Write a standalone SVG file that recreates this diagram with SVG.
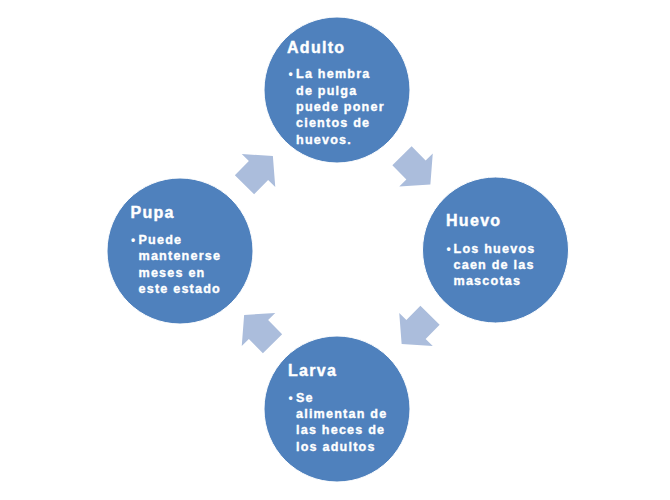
<svg xmlns="http://www.w3.org/2000/svg" width="670" height="500" viewBox="0 0 670 500">
<defs>
<style>
.node{fill:#4F81BD;stroke:#FFFFFF;stroke-width:1}
.arrow{fill:#ABBDDC}
.title{font-family:"Liberation Sans",Arial,sans-serif;font-weight:bold;font-size:16px;fill:#FFFFFF;stroke:#FFFFFF;stroke-width:0.4;letter-spacing:1.3px}
.body{font-family:"Liberation Sans",Arial,sans-serif;font-weight:bold;font-size:12.6px;fill:#FFFFFF;stroke:#FFFFFF;stroke-width:0.35;letter-spacing:1.2px}
.bullet{font-family:"Liberation Sans",Arial,sans-serif;font-weight:bold;font-size:12px;fill:#FFFFFF}
</style>
<path id="arr" d="M-20,-13.5 H0 V-23.5 L20.5,0 L0,23.5 V13.5 H-20 Z"/>
</defs>
<rect width="670" height="500" fill="#FFFFFF"/>
<g id="connectors">
<use href="#arr" class="arrow" transform="translate(416,170) rotate(45.5)"/>
<use href="#arr" class="arrow" transform="translate(416,329.5) rotate(134.5)"/>
<use href="#arr" class="arrow" transform="translate(258.5,329.5) rotate(-134.5)"/>
<use href="#arr" class="arrow" transform="translate(258.5,170.5) rotate(-45.5)"/>
</g>
<g id="adulto">
<circle class="node" cx="337" cy="90" r="73"/>
<text class="title" x="287" y="52.7">Adulto</text>
<text class="bullet" x="288.5" y="78.3">•</text>
<text class="body"><tspan x="296" y="78.3">La hembra</tspan><tspan x="296" y="94.6">de pulga</tspan><tspan x="296" y="110.9">puede poner</tspan><tspan x="296" y="127.2">cientos de</tspan><tspan x="296" y="143.5">huevos.</tspan></text>
</g>
<g id="huevo">
<circle class="node" cx="495.5" cy="250" r="73"/>
<text class="title" x="446" y="226">Huevo</text>
<text class="bullet" x="446.5" y="252.7">•</text>
<text class="body"><tspan x="453.5" y="252.7">Los huevos</tspan><tspan x="453.5" y="269">caen de las</tspan><tspan x="453.5" y="285.3">mascotas</tspan></text>
</g>
<g id="larva">
<circle class="node" cx="337" cy="409" r="73"/>
<text class="title" x="288" y="376">Larva</text>
<text class="bullet" x="288.5" y="401.7">•</text>
<text class="body"><tspan x="296" y="401.7">Se</tspan><tspan x="296" y="418">alimentan de</tspan><tspan x="296" y="434.3">las heces de</tspan><tspan x="296" y="450.6">los adultos</tspan></text>
</g>
<g id="pupa">
<circle class="node" cx="180" cy="251" r="73"/>
<text class="title" x="130.5" y="218.3">Pupa</text>
<text class="bullet" x="131" y="244">•</text>
<text class="body"><tspan x="138.5" y="244">Puede</tspan><tspan x="138.5" y="260.3">mantenerse</tspan><tspan x="138.5" y="276.6">meses en</tspan><tspan x="138.5" y="292.9">este estado</tspan></text>
</g>
</svg>
